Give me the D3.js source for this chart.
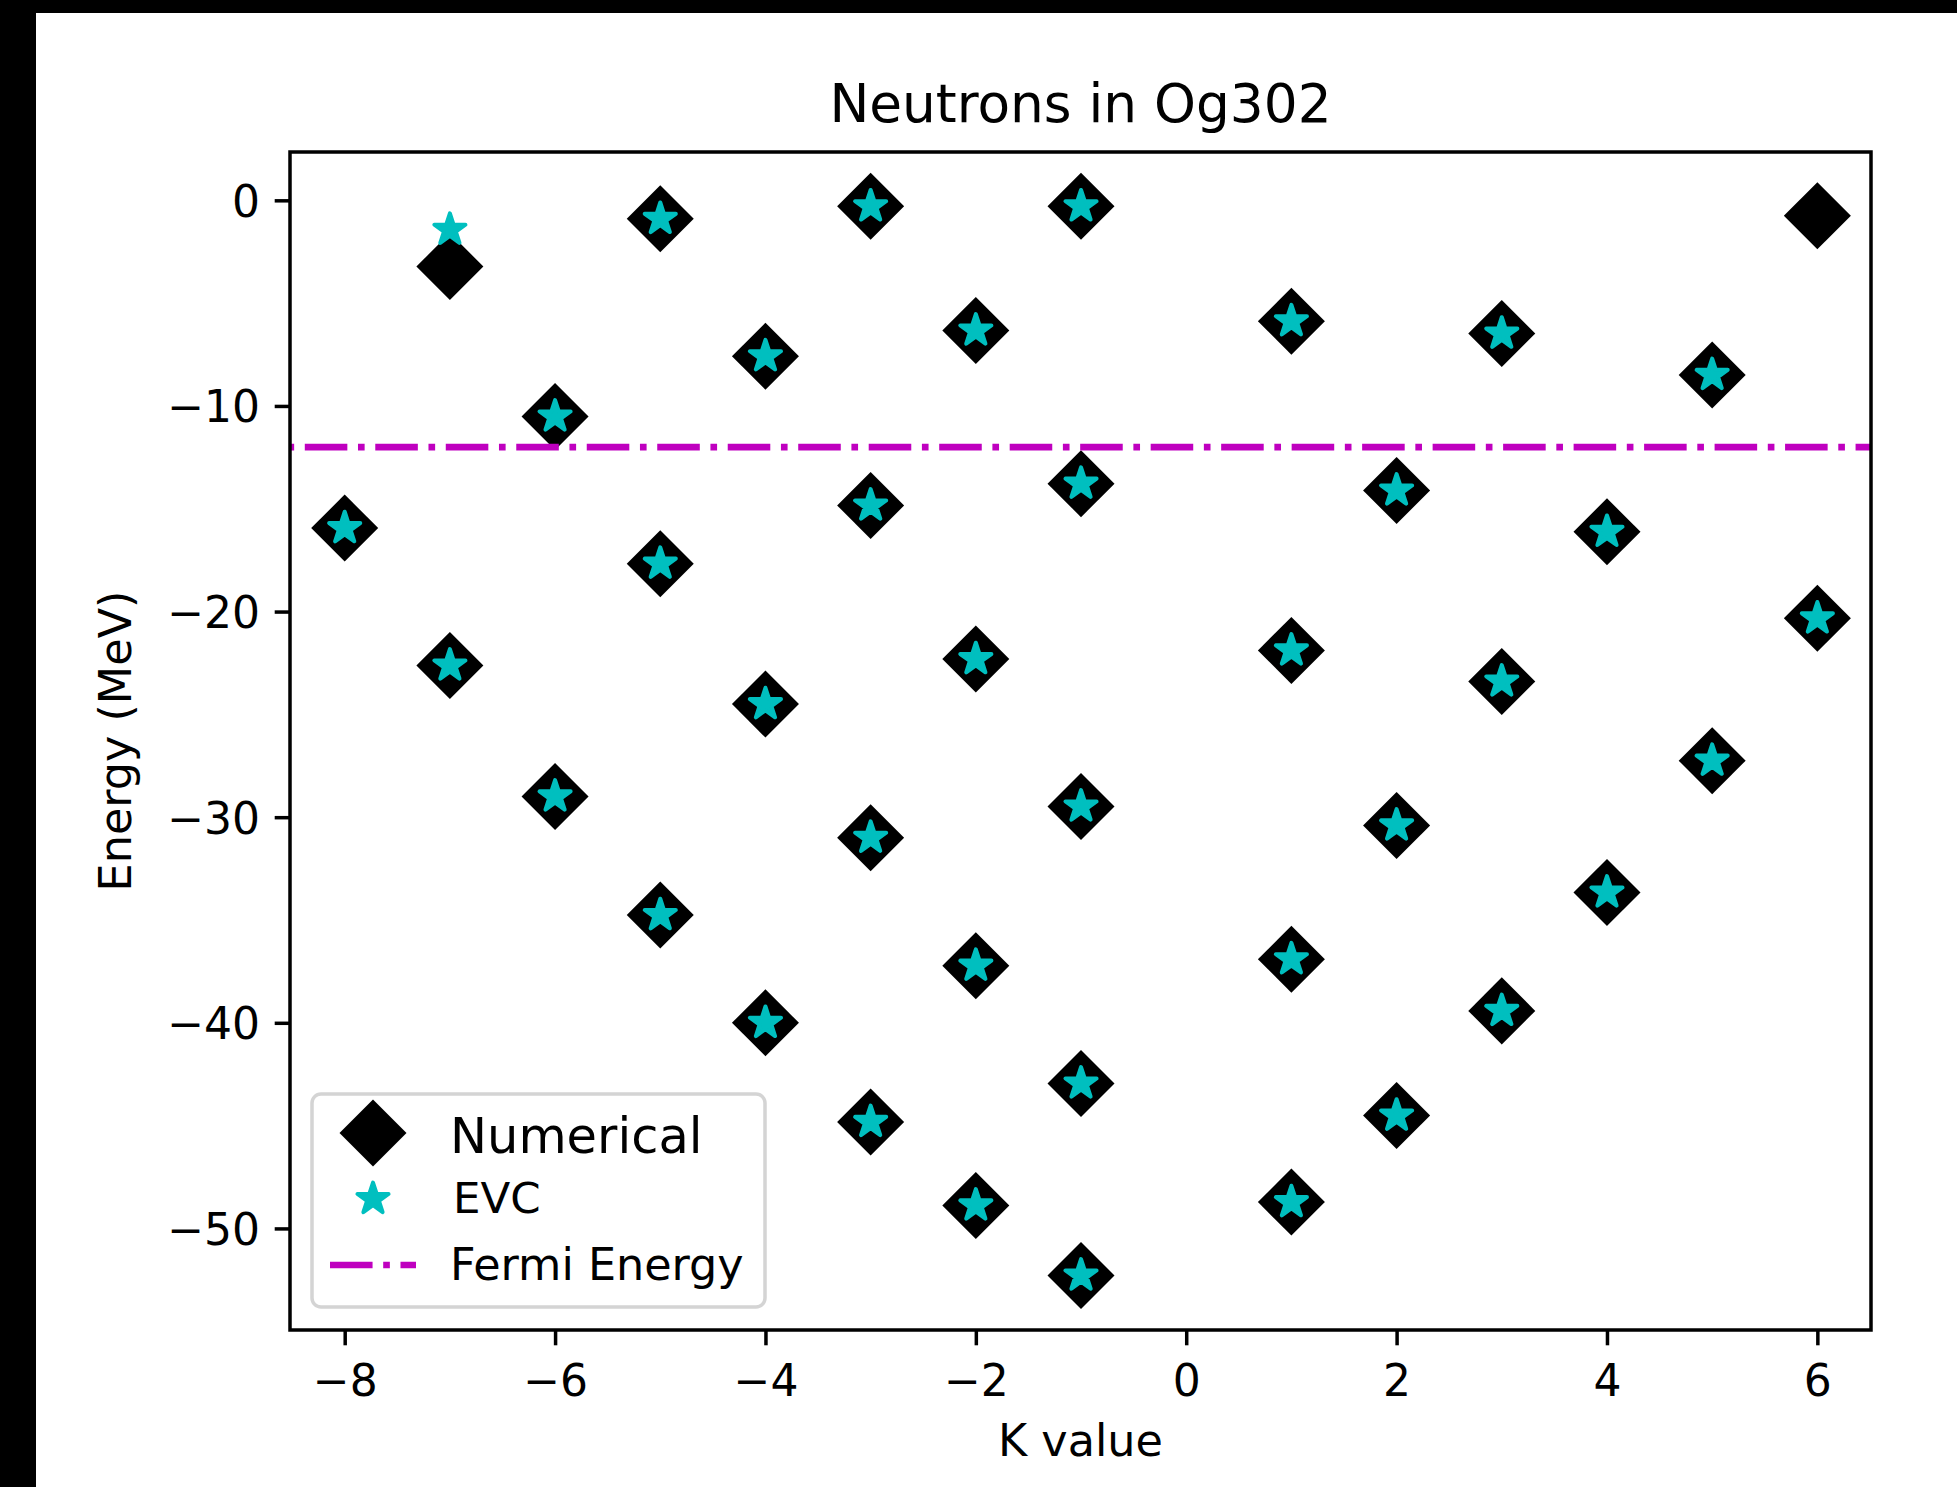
<!DOCTYPE html>
<html>
<head>
<meta charset="utf-8">
<script src="https://cdn.jsdelivr.net/npm/d3@7"></script>
<style>
html,body{margin:0;padding:0;background:#000;overflow:hidden}
text{font-family:"DejaVu Sans",sans-serif;fill:#000}
</style>
</head>
<body>
<svg id="chart" width="1957" height="1487"></svg>
<script>
// ---- data ----
const numericalK = [-8, -7, -7, -6, -6, -5, -5, -5, -4, -4, -4, -3, -3, -3, -3, -2, -2, -2, -2,
                    -1, -1, -1, -1, -1, 1, 1, 1, 1, 2, 2, 2, 3, 3, 3, 4, 4, 5, 5, 6, 6];
const numericalE = [-15.94, -3.22, -22.62, -10.51, -28.99, -0.90, -17.67, -34.76, -7.58, -24.50, -40.00,
                    -0.29, -14.84, -31.00, -44.82, -6.33, -22.31, -37.22, -48.88,
                    -0.29, -13.78, -29.48, -42.95, -52.29, -5.88, -21.89, -36.91, -48.72,
                    -14.11, -30.40, -44.51, -6.48, -23.40, -39.42, -16.12, -33.66, -8.49, -27.25, -0.75, -20.33];
const evcK = [-8, -7, -7, -6, -6, -5, -5, -5, -4, -4, -4, -3, -3, -3, -3, -2, -2, -2, -2,
              -1, -1, -1, -1, -1, 1, 1, 1, 1, 2, 2, 2, 3, 3, 3, 4, 4, 5, 5, 6];
const evcE = [-15.94, -1.43, -22.62, -10.51, -28.99, -0.90, -17.67, -34.76, -7.58, -24.50, -40.00,
              -0.29, -14.84, -31.00, -44.82, -6.33, -22.31, -37.22, -48.88,
              -0.29, -13.78, -29.48, -42.95, -52.29, -5.88, -21.89, -36.91, -48.72,
              -14.11, -30.40, -44.51, -6.48, -23.40, -39.42, -16.12, -33.66, -8.49, -27.25, -20.33];
const fermiEnergy = -12.0;
const xTicks = [-8, -6, -4, -2, 0, 2, 4, 6];
const yTicks = [0, -10, -20, -30, -40, -50];
const legendLabels = ["Numerical", "EVC", "Fermi Energy"];
const titleText = "Neutrons in Og302";
const xLabelText = "K value";
const yLabelText = "Energy (MeV)";

// ---- layout ----
const W = 1957, H = 1487;
const L = 290, R = 1871, T = 152, B = 1330;
const BLACK = "#000000", CYAN = "#00bfbf", MAGENTA = "#bf00bf";
const LW = 6.65;
const dashPattern = [6.4 * LW, 1.6 * LW, 1.0 * LW, 1.6 * LW];
const TICK_FS = "44px", LABEL_FS = "44.5px";

const svg = d3.select("#chart");
svg.append("rect").attr("x", 36).attr("y", 13).attr("width", W - 36).attr("height", H - 13).attr("fill", "#fff");

const x = d3.scaleLinear().domain([-8.52, 6.51]).range([L, R]);
const y = d3.scaleLinear().domain([-54.94, 2.35]).range([B, T]);
const fmt = d => (d < 0 ? "\u2212" + Math.abs(d) : String(d));

// axes
const gx = svg.append("g").attr("transform", `translate(0,${B})`)
  .call(d3.axisBottom(x).tickValues(xTicks).tickSize(15.3).tickFormat(fmt));
gx.select(".domain").remove();
gx.selectAll(".tick line").attr("stroke", BLACK).attr("stroke-width", 3.5);
gx.selectAll(".tick text").attr("y", 66).attr("dy", null)
  .style("font-family", "DejaVu Sans").style("font-size", TICK_FS).attr("fill", BLACK);

const gy = svg.append("g").attr("transform", `translate(${L},0)`)
  .call(d3.axisLeft(y).tickValues(yTicks).tickSize(15.3).tickFormat(fmt));
gy.select(".domain").remove();
gy.selectAll(".tick line").attr("stroke", BLACK).attr("stroke-width", 3.5);
gy.selectAll(".tick text").attr("x", -30).attr("dy", null).attr("y", 16)
  .style("font-family", "DejaVu Sans").style("font-size", TICK_FS).attr("fill", BLACK);

// clip
svg.append("clipPath").attr("id", "plotclip").append("rect")
  .attr("x", L).attr("y", T).attr("width", R - L).attr("height", B - T);
const plot = svg.append("g").attr("clip-path", "url(#plotclip)");

const diamondSym = d3.symbol().type(d3.symbolSquare).size(2245);
const starSym = d3.symbol().type(d3.symbolStar).size(300);

const numData = numericalK.map((k, i) => ({k, e: numericalE[i]}));
const evcData = evcK.map((k, i) => ({k, e: evcE[i]}));

plot.selectAll("path.num").data(numData).join("path").attr("class", "num")
  .attr("d", diamondSym())
  .attr("transform", d => `translate(${x(d.k)},${y(d.e)}) rotate(45)`)
  .attr("fill", BLACK);

plot.selectAll("path.evc").data(evcData).join("path").attr("class", "evc")
  .attr("d", starSym())
  .attr("transform", d => `translate(${x(d.k)},${y(d.e)})`)
  .attr("fill", CYAN).attr("stroke", CYAN).attr("stroke-width", 4).attr("stroke-linejoin", "round");

// Fermi line
plot.append("line")
  .attr("x1", x.range()[0]).attr("x2", x.range()[1])
  .attr("y1", y(fermiEnergy)).attr("y2", y(fermiEnergy))
  .attr("stroke", MAGENTA).attr("stroke-width", LW)
  .attr("stroke-dasharray", dashPattern.join(","))
  .attr("stroke-dashoffset", 55.7);

// frame
svg.append("rect").attr("x", L).attr("y", T).attr("width", R - L).attr("height", B - T)
  .attr("fill", "none").attr("stroke", BLACK).attr("stroke-width", 3.5);

// title & labels
svg.append("text").attr("x", (L + R) / 2).attr("y", 122).attr("text-anchor", "middle")
  .style("font-size", "53.3px").text(titleText);
svg.append("text").attr("x", (L + R) / 2).attr("y", 1456).attr("text-anchor", "middle")
  .style("font-size", LABEL_FS).text(xLabelText);
svg.append("text").attr("transform", `translate(131,${(T + B) / 2}) rotate(-90)`).attr("text-anchor", "middle")
  .style("font-size", LABEL_FS).text(yLabelText);

// legend
const lg = svg.append("g");
lg.append("rect").attr("x", 312).attr("y", 1094).attr("width", 453).attr("height", 213).attr("rx", 9)
  .attr("fill", "#fff").attr("fill-opacity", 0.8).attr("stroke", "#d4d4d4").attr("stroke-width", 3.5);
const mx = 373, tx = 450;
lg.append("path").attr("d", diamondSym()).attr("transform", `translate(${mx},1133) rotate(45)`).attr("fill", BLACK);
lg.append("path").attr("d", starSym()).attr("transform", `translate(${mx},1199)`)
  .attr("fill", CYAN).attr("stroke", CYAN).attr("stroke-width", 4).attr("stroke-linejoin", "round");
lg.append("line").attr("x1", 330).attr("x2", 416).attr("y1", 1265).attr("y2", 1265)
  .attr("stroke", MAGENTA).attr("stroke-width", LW).attr("stroke-dasharray", dashPattern.join(","));
lg.append("text").attr("x", tx).attr("y", 1153).style("font-size", "49.5px").text(legendLabels[0]);
lg.append("text").attr("x", tx + 3).attr("y", 1213).style("font-size", "43.5px").text(legendLabels[1]);
lg.append("text").attr("x", tx).attr("y", 1280).style("font-size", "44.5px").text(legendLabels[2]);
</script>
</body>
</html>
